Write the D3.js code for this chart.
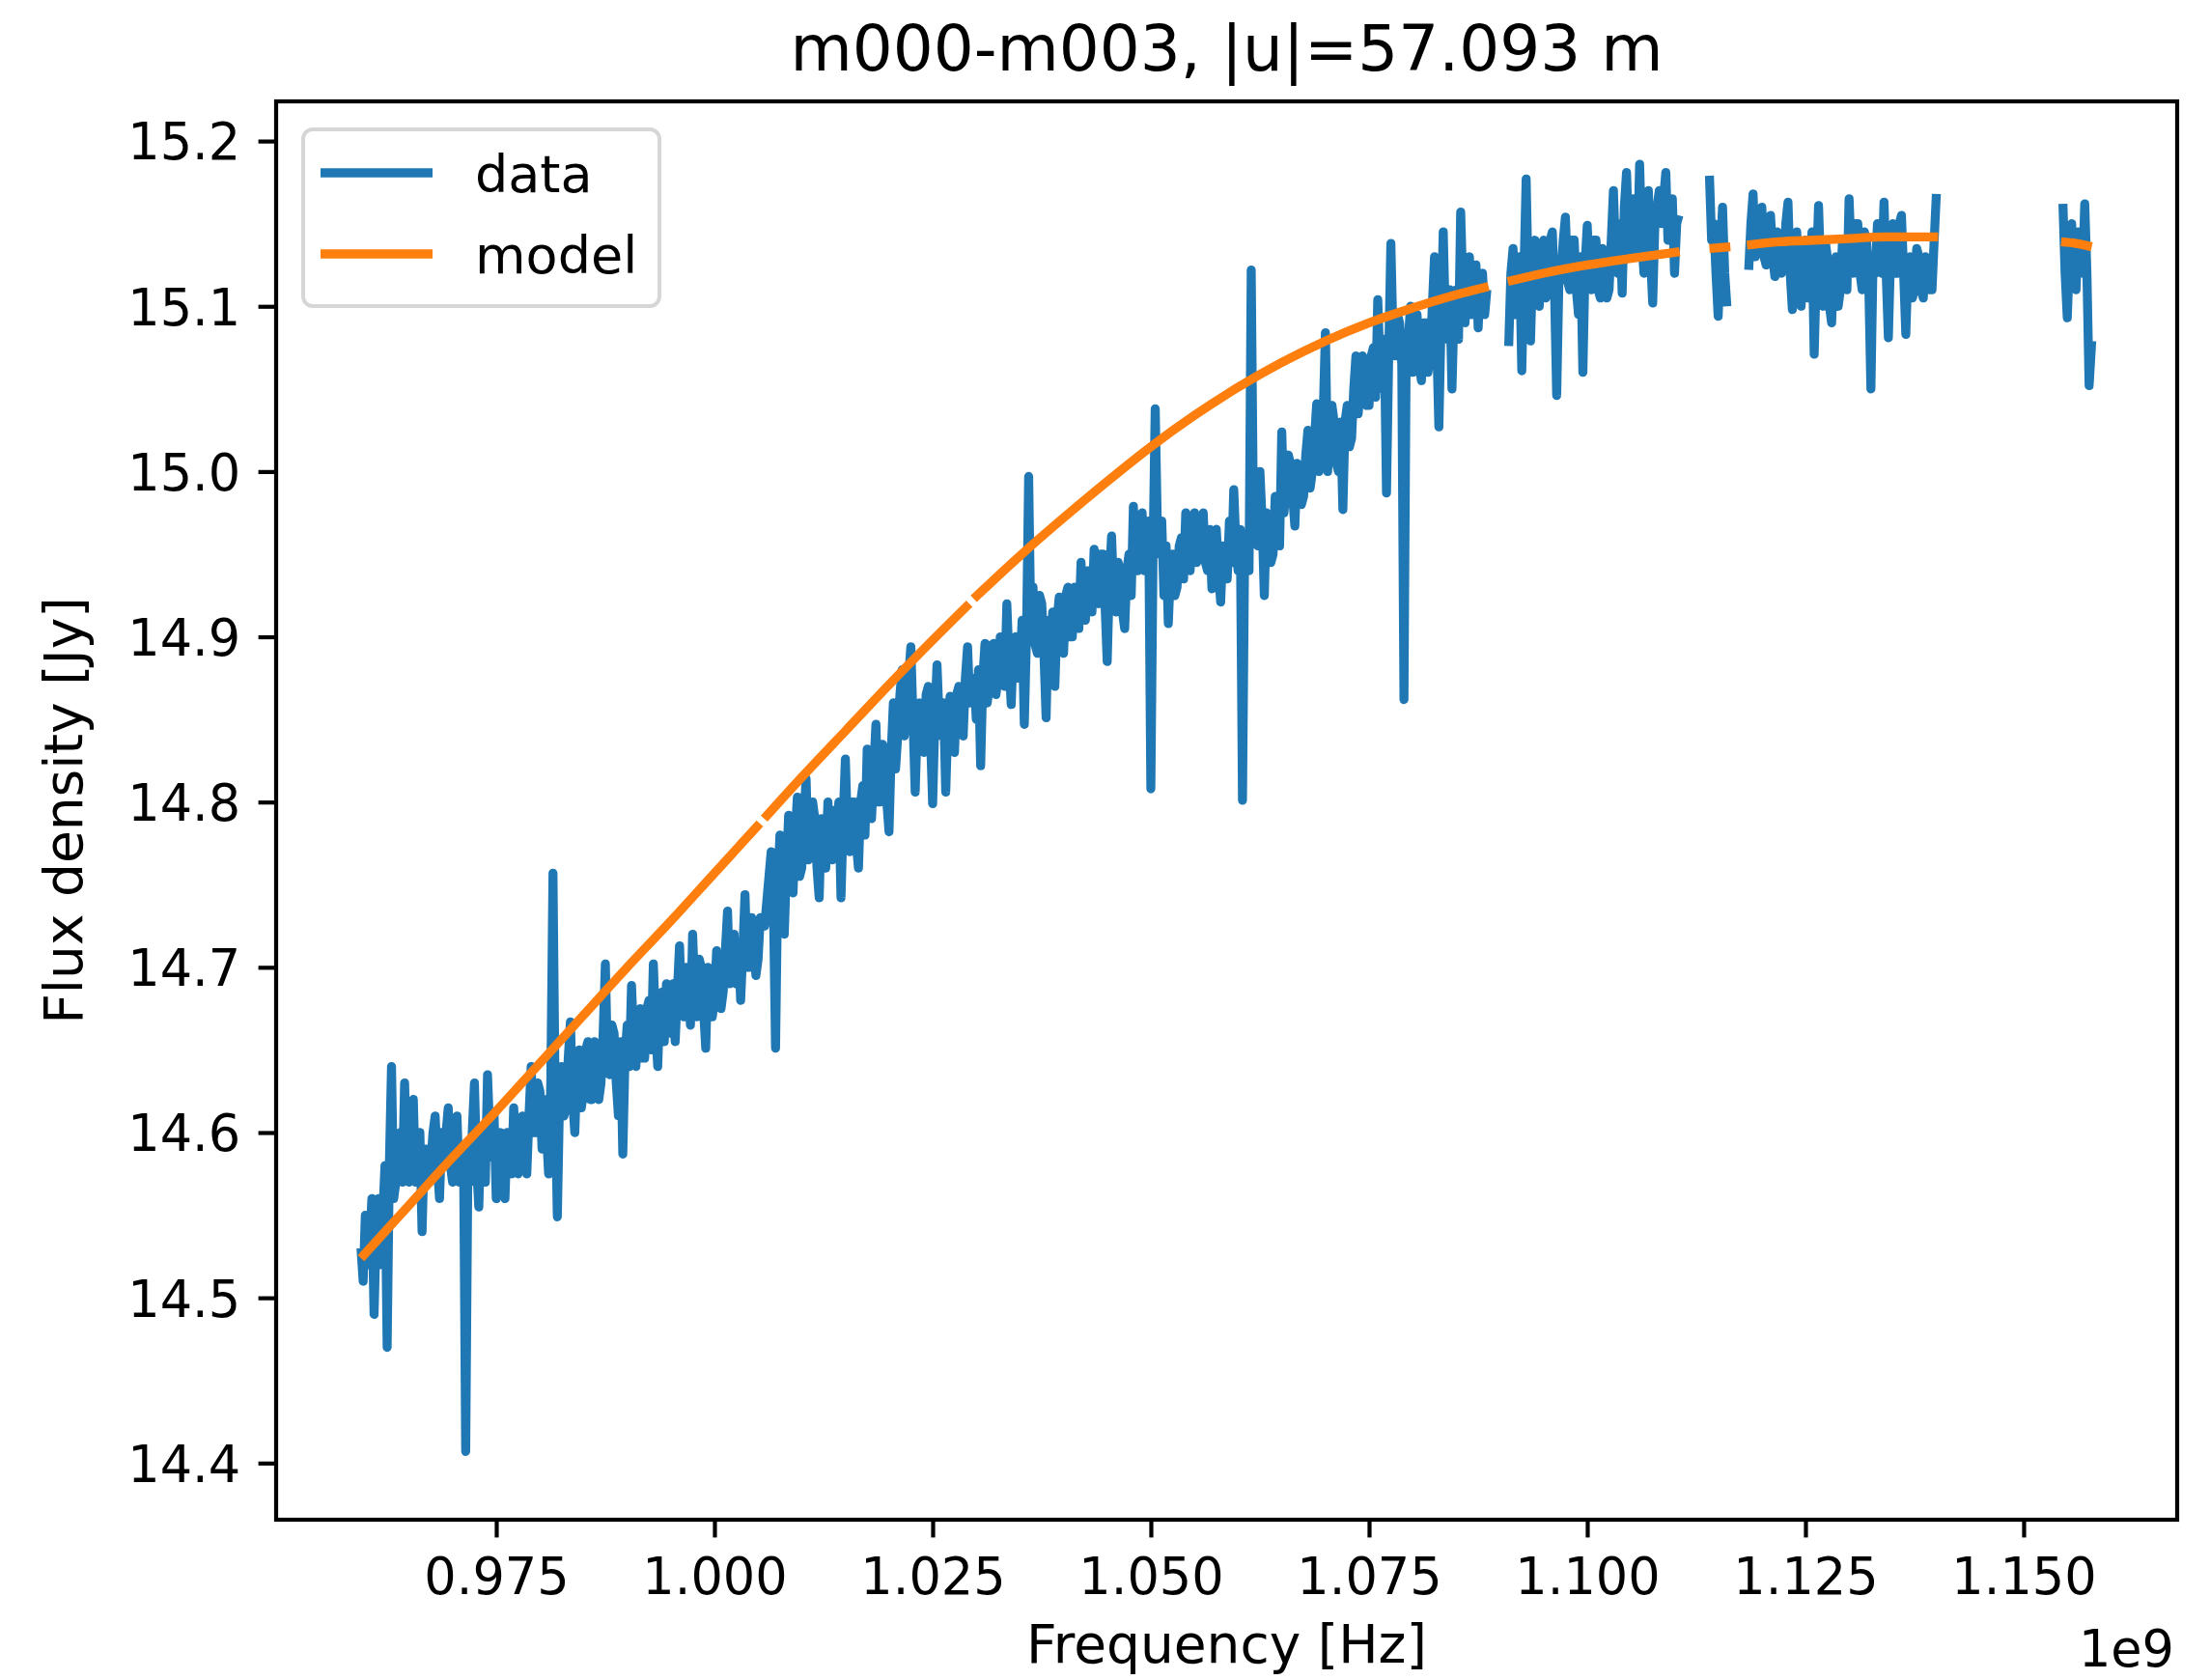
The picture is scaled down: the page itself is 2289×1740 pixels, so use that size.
<!DOCTYPE html>
<html>
<head>
<meta charset="utf-8">
<script src="https://cdn.jsdelivr.net/npm/d3@7"></script>
<style>
  html, body { margin: 0; padding: 0; background: #ffffff; }
  svg { display: block; }
  text { font-family: "DejaVu Sans", sans-serif; fill: #000; }
</style>
</head>
<body>
<script>
// ---------------- DATA ----------------
const chartTitle = "m000-m003, |u|=57.093 m";
const xLabel = "Frequency [Hz]";
const yLabel = "Flux density [Jy]";
const xOffsetLabel = "1e9";
const seriesNames = ["data", "model"];

// measured visibilities: channel frequency (MHz) and flux density (Jy)
const dataFreqMHz = [
959.5,959.75,960,960.25,960.5,960.75,961,961.25,961.5,961.75,962,962.25,962.5,962.75,963,963.25,963.5,963.75,964,964.25,
964.5,964.75,965,965.25,965.5,965.75,966,966.25,966.5,966.75,967,967.25,967.5,967.75,968,968.25,968.5,968.75,969,969.25,
969.5,969.75,970,970.25,970.5,970.75,971,971.25,971.5,971.75,972,972.25,972.5,972.75,973,973.25,973.5,973.75,974,974.25,
974.5,974.75,975,975.25,975.5,975.75,976,976.25,976.5,976.75,977,977.25,977.5,977.75,978,978.25,978.5,978.75,979,979.25,
979.5,979.75,980,980.25,980.5,980.75,981,981.25,981.5,981.75,982,982.25,982.5,982.75,983,983.25,983.5,983.75,984,984.25,
984.5,984.75,985,985.25,985.5,985.75,986,986.25,986.5,986.75,987,987.25,987.5,987.75,988,988.25,988.5,988.75,989,989.25,
989.5,989.75,990,990.25,990.5,990.75,991,991.25,991.5,991.75,992,992.25,992.5,992.75,993,993.25,993.5,993.75,994,994.25,
994.5,994.75,995,995.25,995.5,995.75,996,996.25,996.5,996.75,997,997.25,997.5,997.75,998,998.25,998.5,998.75,999,999.25,
999.5,999.75,1000,1000.25,1000.5,1000.75,1001,1001.25,1001.5,1001.75,1002,1002.25,1002.5,1002.75,1003,1003.25,1003.5,1003.75,1004,1004.25,
1004.5,1004.75,1005,1005.25,1005.75,1006,1006.25,1006.5,1006.75,1007,1007.25,1007.5,1007.75,1008,1008.25,1008.5,1008.75,1009,1009.25,
1009.5,1009.75,1010,1010.25,1010.5,1010.75,1011,1011.25,1011.5,1011.75,1012,1012.25,1012.5,1012.75,1013,1013.25,1013.5,1013.75,1014,1014.25,
1014.5,1014.75,1015,1015.25,1015.5,1015.75,1016,1016.25,1016.5,1016.75,1017,1017.25,1017.5,1017.75,1018,1018.25,1018.5,1018.75,1019,1019.25,
1019.5,1019.75,1020,1020.25,1020.5,1020.75,1021,1021.25,1021.5,1021.75,1022,1022.25,1022.5,1022.75,1023,1023.25,1023.5,1023.75,1024,1024.25,
1024.5,1024.75,1025,1025.25,1025.5,1025.75,1026,1026.25,1026.5,1026.75,1027,1027.25,1027.5,1027.75,1028,1028.25,1028.5,1028.75,1029,1029.25,
1029.75,1030,1030.25,1030.5,1030.75,1031,1031.25,1031.5,1031.75,1032,1032.25,1032.5,1032.75,1033,1033.25,1033.5,1033.75,1034,1034.25,
1034.5,1034.75,1035,1035.25,1035.5,1035.75,1036,1036.25,1036.5,1036.75,1037,1037.25,1037.5,1037.75,1038,1038.25,1038.5,1038.75,1039,1039.25,
1039.5,1039.75,1040,1040.25,1040.5,1040.75,1041,1041.25,1041.5,1041.75,1042,1042.25,1042.5,1042.75,1043,1043.25,1043.5,1043.75,1044,1044.25,
1044.5,1044.75,1045,1045.25,1045.5,1045.75,1046,1046.25,1046.5,1046.75,1047,1047.25,1047.5,1047.75,1048,1048.25,1048.5,1048.75,1049,1049.25,
1049.5,1049.75,1050,1050.25,1050.5,1050.75,1051,1051.25,1051.5,1051.75,1052,1052.25,1052.5,1052.75,1053,1053.25,1053.5,1053.75,1054,1054.25,
1054.5,1054.75,1055,1055.25,1055.5,1055.75,1056,1056.25,1056.5,1056.75,1057,1057.25,1057.5,1057.75,1058,1058.25,1058.5,1058.75,1059,1059.25,
1059.5,1059.75,1060,1060.25,1060.5,1060.75,1061,1061.25,1061.5,1061.75,1062,1062.25,1062.5,1062.75,1063,1063.25,1063.5,1063.75,1064,1064.25,
1064.5,1064.75,1065,1065.25,1065.5,1065.75,1066,1066.25,1066.5,1066.75,1067,1067.25,1067.5,1067.75,1068,1068.25,1068.5,1068.75,1069,1069.25,
1069.5,1069.75,1070,1070.25,1070.5,1070.75,1071,1071.25,1071.5,1071.75,1072,1072.25,1072.5,1072.75,1073,1073.25,1073.5,1073.75,1074,1074.25,
1074.5,1074.75,1075,1075.25,1075.5,1075.75,1076,1076.25,1076.5,1076.75,1077,1077.25,1077.5,1077.75,1078,1078.25,1078.5,1078.75,1079,1079.25,
1079.5,1079.75,1080,1080.25,1080.5,1080.75,1081,1081.25,1081.5,1081.75,1082,1082.25,1082.5,1082.75,1083,1083.25,1083.5,1083.75,1084,1084.25,
1084.5,1084.75,1085,1085.25,1085.5,1085.75,1086,1086.25,1086.5,1086.75,1087,1087.25,1087.5,1087.75,1088,1088.25,1088.5,
1091,1091.25,1091.5,1091.75,1092,1092.25,1092.5,1092.75,1093,1093.25,1093.5,1093.75,1094,1094.25,1094.5,1094.75,1095,1095.25,1095.5,1095.75,
1096,1096.25,1096.5,1096.75,1097,1097.25,1097.5,1097.75,1098,1098.25,1098.5,1098.75,1099,1099.25,1099.5,1099.75,1100,1100.25,1100.5,1100.75,
1101,1101.25,1101.5,1101.75,1102,1102.25,1102.5,1102.75,1103,1103.25,1103.5,1103.75,1104,1104.25,1104.5,1104.75,1105,1105.25,1105.5,1105.75,
1106,1106.25,1106.5,1106.75,1107,1107.25,1107.5,1107.75,1108,1108.25,1108.5,1108.75,1109,1109.25,1109.5,1109.75,1110,1110.25,1110.5,
1114,1114.25,1114.5,1114.75,1115,1115.25,1115.5,1115.75,1116,
1118.5,1118.75,1119,1119.25,1119.5,1119.75,1120,1120.25,1120.5,1120.75,1121,1121.25,1121.5,1121.75,1122,1122.25,1122.5,1122.75,1123,1123.25,
1123.5,1123.75,1124,1124.25,1124.5,1124.75,1125,1125.25,1125.5,1125.75,1126,1126.25,1126.5,1126.75,1127,1127.25,1127.5,1127.75,1128,1128.25,
1128.5,1128.75,1129,1129.25,1129.5,1129.75,1130,1130.25,1130.5,1130.75,1131,1131.25,1131.5,1131.75,1132,1132.25,1132.5,1132.75,1133,1133.25,
1133.5,1133.75,1134,1134.25,1134.5,1134.75,1135,1135.25,1135.5,1135.75,1136,1136.25,1136.5,1136.75,1137,1137.25,1137.5,1137.75,1138,1138.25,
1138.5,1138.75,1139,1139.25,1139.5,1139.75,1140,
1154.5,1154.75,1155,1155.25,1155.5,1155.75,1156,1156.25,1156.5,1156.75,1157,1157.25,1157.5,1157.8
];
const dataFlux = [
14.53,14.51,14.55,14.52,14.53,14.56,14.49,14.54,14.56,14.52,14.55,14.58,14.47,14.58,14.64,14.56,14.57,14.59,14.60,14.57,
14.63,14.58,14.57,14.60,14.62,14.57,14.58,14.60,14.54,14.59,14.59,14.57,14.58,14.60,14.61,14.58,14.56,14.60,14.58,14.60,
14.615,14.58,14.57,14.60,14.61,14.57,14.575,14.59,14.407,14.58,14.57,14.60,14.63,14.58,14.555,14.60,14.60,14.57,14.635,14.60,
14.585,14.61,14.56,14.59,14.60,14.57,14.56,14.60,14.59,14.575,14.615,14.59,14.575,14.60,14.61,14.585,14.575,14.61,14.64,14.60,
14.60,14.63,14.625,14.59,14.62,14.60,14.575,14.63,14.757,14.62,14.549,14.62,14.64,14.61,14.615,14.645,14.667,14.62,14.60,14.64,
14.65,14.615,14.625,14.65,14.655,14.62,14.62,14.655,14.645,14.62,14.63,14.66,14.702,14.64,14.635,14.665,14.66,14.63,14.61,14.655,
14.587,14.645,14.665,14.64,14.689,14.655,14.64,14.67,14.675,14.645,14.645,14.675,14.68,14.65,14.702,14.665,14.64,14.68,14.685,14.655,
14.69,14.665,14.66,14.69,14.655,14.685,14.713,14.675,14.67,14.70,14.69,14.665,14.72,14.685,14.67,14.705,14.70,14.675,14.651,14.70,
14.69,14.67,14.68,14.71,14.70,14.675,14.685,14.71,14.734,14.69,14.70,14.72,14.69,14.715,14.68,14.71,14.744,14.70,14.70,14.73,
14.72,14.695,14.705,14.73,14.725,14.74,14.755,14.77,14.74,14.651,14.75,14.78,14.74,14.72,14.76,14.792,14.75,14.745,14.78,
14.803,14.755,14.76,14.79,14.814,14.765,14.77,14.80,14.79,14.76,14.742,14.79,14.78,14.76,14.80,14.775,14.765,14.795,14.78,14.80,
14.742,14.79,14.826,14.78,14.77,14.80,14.80,14.775,14.76,14.80,14.81,14.78,14.832,14.80,14.79,14.82,14.847,14.80,14.80,14.835,
14.83,14.80,14.782,14.83,14.86,14.82,14.84,14.865,14.88,14.84,14.85,14.875,14.894,14.85,14.806,14.85,14.86,14.835,14.83,14.865,
14.87,14.84,14.799,14.85,14.883,14.85,14.84,14.86,14.806,14.85,14.864,14.84,14.83,14.865,14.87,14.845,14.84,14.875,14.894,14.86,
14.875,14.85,14.88,14.822,14.875,14.896,14.86,14.87,14.895,14.896,14.865,14.875,14.90,14.89,14.87,14.92,14.885,14.859,14.895,
14.90,14.875,14.88,14.91,14.847,14.90,14.997,14.905,14.93,14.895,14.89,14.925,14.92,14.89,14.851,14.91,14.89,14.915,14.87,14.91,
14.924,14.895,14.89,14.925,14.93,14.90,14.90,14.93,14.925,14.905,14.945,14.915,14.91,14.94,14.94,14.915,14.953,14.925,14.92,14.95,
14.95,14.92,14.885,14.935,14.961,14.925,14.915,14.945,14.94,14.915,14.905,14.94,14.95,14.925,14.979,14.94,14.94,14.965,14.975,14.94,
14.945,14.97,14.808,14.95,15.038,14.965,14.95,14.97,14.925,14.955,14.908,14.94,14.95,14.925,14.93,14.955,14.96,14.935,14.975,14.95,
14.94,14.965,14.975,14.945,14.95,14.97,14.975,14.945,14.94,14.965,14.929,14.96,14.965,14.94,14.921,14.955,14.95,14.935,14.97,14.945,
14.989,14.955,14.94,14.965,14.801,14.955,14.96,14.94,15.122,14.975,14.98,14.955,15.00,14.97,14.925,14.975,14.97,14.945,14.95,14.985,
14.975,14.955,15.024,14.975,14.99,15.01,15.005,14.985,14.967,15.005,15.00,14.98,14.985,15.01,15.025,14.99,15.00,15.02,15.041,15.00,
15.01,15.035,15.084,15.00,15.02,15.04,15.03,15.005,15.00,15.03,14.977,15.03,15.04,15.015,15.02,15.05,15.07,15.035,15.05,15.07,
15.065,15.04,15.04,15.07,15.075,15.045,15.104,15.065,15.05,15.08,14.987,15.07,15.138,15.08,15.07,15.095,15.09,15.065,14.862,15.07,
15.08,15.10,15.06,15.085,15.095,15.065,15.055,15.09,15.09,15.06,15.07,15.10,15.13,15.08,15.027,15.09,15.145,15.09,15.08,15.11,
15.05,15.10,15.11,15.08,15.157,15.11,15.09,15.125,15.13,15.095,15.10,15.125,15.087,15.115,15.12,15.095,15.11,
15.076,15.12,15.135,15.095,15.10,15.13,15.061,15.12,15.177,15.11,15.079,15.125,15.14,15.105,15.10,15.135,15.14,15.105,15.11,15.14,
15.145,15.11,15.046,15.115,15.12,15.14,15.154,15.115,15.11,15.14,15.14,15.11,15.095,15.13,15.06,15.125,15.149,15.115,15.11,15.14,
15.14,15.11,15.105,15.135,15.13,15.105,15.11,15.14,15.17,15.13,15.12,15.15,15.108,15.16,15.181,15.14,15.13,15.165,15.16,15.13,
15.186,15.14,15.12,15.16,15.17,15.13,15.102,15.15,15.16,15.17,15.15,15.165,15.181,15.14,15.15,15.165,15.120,15.15,15.155,
15.179,15.14,15.15,15.12,15.094,15.13,15.16,15.12,15.10,
15.122,15.15,15.168,15.13,15.14,15.155,15.16,15.13,15.125,15.15,15.155,15.13,15.118,15.145,15.13,15.12,15.125,15.15,15.163,15.12,
15.098,15.135,15.145,15.12,15.10,15.13,15.14,15.105,15.12,15.145,15.071,15.12,15.161,15.12,15.10,15.14,15.13,15.10,15.09,15.125,
15.13,15.10,15.11,15.14,15.14,15.11,15.165,15.13,15.12,15.15,15.15,15.12,15.11,15.145,15.14,15.115,15.050,15.13,15.12,15.15,
15.13,15.12,15.163,15.12,15.081,15.13,15.15,15.12,15.12,15.15,15.155,15.12,15.083,15.125,15.13,15.105,15.11,15.135,15.13,15.11,
15.105,15.13,15.125,15.11,15.11,15.14,15.168,
15.162,15.12,15.093,15.13,15.15,15.12,15.11,15.145,15.14,15.12,15.162,15.12,15.052,15.079
];

// fitted model (null = flagged channel, the line is broken there)
const modelFreqMHz = [
959.5,965,970,975,980,985,990,995,1000,1005.2,1005.45,1005.7,1010,1015,1020,1025,1029.2,1029.45,1029.7,
1035,1040,1045,1050,1055,1060,1065,1070,1075,1080,1085,1088.7,1089.8,1090.9,1095,1100,1105,1110.6,1112.3,
1114.0,1116.4,1117.3,1118.3,1122,1126,1130,1134,1140.2,1147,1154.3,1156,1157.8
];
const modelFlux = [
14.524,14.556,14.585,14.613,14.642,14.671,14.700,14.728,14.757,14.787,null,14.790,14.815,14.843,14.871,14.898,14.920,null,14.923,
14.949,14.972,14.994,15.015,15.034,15.051,15.066,15.079,15.090,15.099,15.107,15.112,null,15.115,15.120,15.125,15.129,15.133,null,
15.135,15.136,null,15.137,15.139,15.140,15.141,15.142,15.142,null,15.139,15.138,15.136
];

const xTickValues = [0.975, 1.000, 1.025, 1.050, 1.075, 1.100, 1.125, 1.150]; // GHz (x 1e9 Hz)
const yTickValues = [14.4, 14.5, 14.6, 14.7, 14.8, 14.9, 15.0, 15.1, 15.2];
const xLimits = [0.94978, 1.16759]; // GHz
const yLimits = [14.3657, 15.2240];

// ---------------- LAYOUT ----------------
const W = 2289, H = 1740;
const plot = { left: 286, right: 2255, top: 105, bottom: 1574 };
const colors = { data: "#1f77b4", model: "#ff7f0e" };
const fs = { tick: 52.5, label: 55, title: 66, legend: 54 };
const lw = 9.3, axisW = 4.2, tickLen = 18.4, tickPad = 18.4;

const svg = d3.select("body").append("svg").attr("width", W).attr("height", H);
svg.append("rect").attr("width", W).attr("height", H).attr("fill", "#fff");

const x = d3.scaleLinear().domain(xLimits).range([plot.left, plot.right]);
const y = d3.scaleLinear().domain(yLimits).range([plot.bottom, plot.top]);

svg.append("defs").append("clipPath").attr("id", "clip")
  .append("rect").attr("x", plot.left).attr("y", plot.top)
  .attr("width", plot.right - plot.left).attr("height", plot.bottom - plot.top);

// data series: split into contiguous runs (large gaps = flagged bands)
const n = Math.min(dataFreqMHz.length, dataFlux.length);
const pts = d3.range(n).map(i => ({ f: dataFreqMHz[i], v: dataFlux[i] }));
const segs = [];
let cur = [];
pts.forEach((p, i) => {
  if (i > 0 && p.f - pts[i - 1].f > 1.5) { segs.push(cur); cur = []; }
  cur.push(p);
});
segs.push(cur);

const lineData = d3.line().x(d => x(d.f / 1000)).y(d => y(d.v));
const gLines = svg.append("g").attr("clip-path", "url(#clip)");
gLines.selectAll("path.data").data(segs).join("path")
  .attr("class", "data")
  .attr("d", lineData)
  .attr("fill", "none").attr("stroke", colors.data).attr("stroke-width", lw)
  .attr("stroke-linejoin", "round").attr("stroke-linecap", "butt");

const modelPts = modelFreqMHz.map((f, i) => ({ f: f, v: modelFlux[i] }));
const lineModel = d3.line().defined(d => d.v !== null)
  .x(d => x(d.f / 1000)).y(d => y(d.v)).curve(d3.curveMonotoneX);
gLines.append("path").datum(modelPts)
  .attr("d", lineModel)
  .attr("fill", "none").attr("stroke", colors.model).attr("stroke-width", lw)
  .attr("stroke-linejoin", "round").attr("stroke-linecap", "butt");

// axes
const xAxis = d3.axisBottom(x).tickValues(xTickValues).tickFormat(d3.format(".3f"))
  .tickSizeInner(tickLen).tickSizeOuter(0).tickPadding(tickPad);
const yAxis = d3.axisLeft(y).tickValues(yTickValues).tickFormat(d3.format(".1f"))
  .tickSizeInner(tickLen).tickSizeOuter(0).tickPadding(tickPad);

const gx = svg.append("g").attr("transform", `translate(0,${plot.bottom})`).call(xAxis);
const gy = svg.append("g").attr("transform", `translate(${plot.left},0)`).call(yAxis);
[gx, gy].forEach(g => {
  g.select(".domain").remove();
  g.selectAll(".tick line").attr("stroke", "#000").attr("stroke-width", axisW);
  g.selectAll(".tick text").attr("font-family", "DejaVu Sans").attr("font-size", fs.tick).attr("fill", "#000");
});
gx.selectAll(".tick text").attr("dy", null).attr("y", tickLen + tickPad + 40);
gy.selectAll(".tick text").attr("dy", "0.36em");

// frame
svg.append("rect").attr("x", plot.left).attr("y", plot.top)
  .attr("width", plot.right - plot.left).attr("height", plot.bottom - plot.top)
  .attr("fill", "none").attr("stroke", "#000").attr("stroke-width", axisW);

// labels
svg.append("text").attr("x", (plot.left + plot.right) / 2).attr("y", 73)
  .attr("text-anchor", "middle").attr("font-size", fs.title).text(chartTitle);
svg.append("text").attr("x", (plot.left + plot.right) / 2).attr("y", 1722)
  .attr("text-anchor", "middle").attr("font-size", fs.label).text(xLabel);
svg.append("text").attr("x", plot.right - 3).attr("y", 1726)
  .attr("text-anchor", "end").attr("font-size", fs.tick).text(xOffsetLabel);
svg.append("text").attr("transform", `translate(85,${(plot.top + plot.bottom) / 2}) rotate(-90)`)
  .attr("text-anchor", "middle").attr("font-size", fs.label).text(yLabel);

// legend
const lg = svg.append("g");
lg.append("rect").attr("x", 314).attr("y", 134).attr("width", 369).attr("height", 183)
  .attr("rx", 10).attr("ry", 10)
  .attr("fill", "#fff").attr("fill-opacity", 0.8).attr("stroke", "#d6d6d6").attr("stroke-width", 4);
const legendRows = [{ name: seriesNames[0], color: colors.data, y: 179 },
                    { name: seriesNames[1], color: colors.model, y: 263 }];
legendRows.forEach(r => {
  lg.append("line").attr("x1", 332).attr("x2", 448).attr("y1", r.y).attr("y2", r.y)
    .attr("stroke", r.color).attr("stroke-width", lw);
  lg.append("text").attr("x", 492).attr("y", r.y + 20).attr("font-size", fs.legend).text(r.name);
});
</script>
</body>
</html>
